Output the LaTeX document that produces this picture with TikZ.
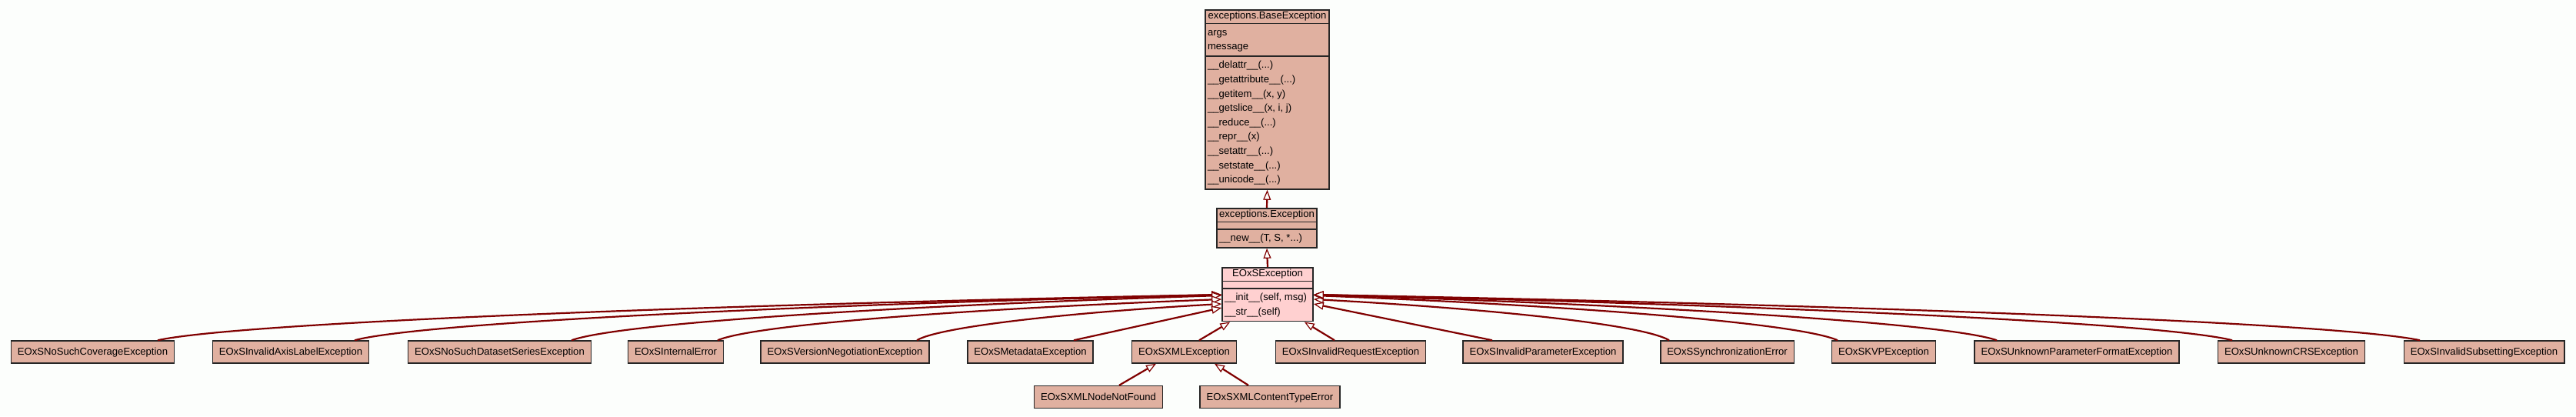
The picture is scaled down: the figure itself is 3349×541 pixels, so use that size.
\documentclass[tikz,border=0pt]{standalone}
\usepackage{fontspec}
\setmainfont{Liberation Sans}
\usetikzlibrary{shapes.multipart,arrows.meta}
\definecolor{clsfill}{HTML}{E0B0A0}
\definecolor{selfill}{HTML}{FFD0D0}
\definecolor{inhline}{HTML}{800000}
\definecolor{pagebg}{HTML}{FCFEFC}

\begin{document}
\begin{tikzpicture}[x=1pt, y=-1pt,
    every node/.style={font=\fontsize{13.1}{18.6}\selectfont},
    cls/.style={draw=black!85, line width=1.5pt, fill=clsfill, anchor=north,
        rectangle split, rectangle split parts=3,
        rectangle split part align={center,left,left},
        align=left, inner xsep=3pt, inner ysep=2pt},
    leaf/.style={draw=black!85, line width=1.5pt, fill=clsfill, minimum height=29pt,
        inner xsep=8.5pt, text height=9.4pt, text depth=1.4pt},
    inh/.style={draw=inhline, line width=2.2pt,
        -{Triangle[fill=pagebg, line width=1.2pt, length=13pt, width=10pt]}}]
    \useasboundingbox (0,0) rectangle (3349,541);
    \fill[pagebg] (0,0) rectangle (3349,541);

    \node[cls, minimum width=161pt] (base) at (1647.5,12) {exceptions.BaseException
        \nodepart{two}\strut args\\\strut message
        \nodepart{three}\strut\_\_delattr\_\_(...)\\\strut\_\_getattribute\_\_(...)\\
        \strut\_\_getitem\_\_(x, y)\\\strut\_\_getslice\_\_(x, i, j)\\
        \strut\_\_reduce\_\_(...)\\\strut\_\_repr\_\_(x)\\
        \strut\_\_setattr\_\_(...)\\\strut\_\_setstate\_\_(...)\\
        \strut\_\_unicode\_\_(...)};
    \node[cls, minimum width=128pt] (exception) at (1647,270) {exceptions.Exception
        \nodepart{two}\rule{0pt}{4pt}
        \nodepart{three}\strut\_\_new\_\_(T, S, *...)};
    \node[cls, fill=selfill, minimum width=118pt] (exc) at (1648,347) {EOxSException
        \nodepart{two}\rule{0pt}{4pt}
        \nodepart{three}\strut\_\_init\_\_(self, msg)\\\strut\_\_str\_\_(self)};

    \node[leaf] (cov) at (120.5,457.5) {EOxSNoSuchCoverageException};
    \node[leaf] (axis) at (378,457.5) {EOxSInvalidAxisLabelException};
    \node[leaf] (dss) at (649.5,457.5) {EOxSNoSuchDatasetSeriesException};
    \node[leaf] (internal) at (878.5,457.5) {EOxSInternalError};
    \node[leaf] (version) at (1098.5,457.5) {EOxSVersionNegotiationException};
    \node[leaf] (meta) at (1339.5,457.5) {EOxSMetadataException};
    \node[leaf] (xml) at (1539.5,457.5) {EOxSXMLException};
    \node[leaf] (request) at (1756,457.5) {EOxSInvalidRequestException};
    \node[leaf] (param) at (2006,457.5) {EOxSInvalidParameterException};
    \node[leaf] (sync) at (2245.5,457.5) {EOxSSynchronizationError};
    \node[leaf] (kvp) at (2449,457.5) {EOxSKVPException};
    \node[leaf] (format) at (2700,457.5) {EOxSUnknownParameterFormatException};
    \node[leaf] (crs) at (2979,457.5) {EOxSUnknownCRSException};
    \node[leaf] (subset) at (3229.5,457.5) {EOxSInvalidSubsettingException};
    \node[leaf] (notfound) at (1428,516) {EOxSXMLNodeNotFound};
    \node[leaf] (ctype) at (1651,516) {EOxSXMLContentTypeError};

    \draw[inh] (exception.north) -- (base.south);
    \draw[inh] (exc.north) -- (exception.south);

    \draw[inh] ([xshift=84.5]cov.north) .. controls +(111,-24) and +(-623,12) .. ([yshift=-36]exc.north west);
    \draw[inh] ([xshift=83]axis.north) .. controls +(90,-24) and +(-508,12) .. ([yshift=-36]exc.north west);
    \draw[inh] ([xshift=93.5]dss.north) .. controls +(68,-24) and +(-381,12) .. ([yshift=-37]exc.north west);
    \draw[inh] ([xshift=54.5]internal.north) .. controls +(52,-22) and +(-295,11) .. ([yshift=-42]exc.north west);
    \draw[inh] ([xshift=93.5]version.north) .. controls +(32,-19) and +(-179,10) .. ([yshift=-48]exc.north west);
    \draw[inh] ([xshift=56.5]meta.north) -- ([yshift=-53]exc.north west);
    \draw[inh] ([xshift=19.5]xml.north) -- ([xshift=11]exc.south west);
    \draw[inh] ([xshift=-21]request.north) -- ([xshift=-12]exc.south east);
    \draw[inh] ([xshift=-66]param.north) -- ([yshift=-48]exc.north east);
    \draw[inh] ([xshift=-75.5]sync.north) .. controls +(-37,-22) and +(208,11) .. ([yshift=-42]exc.north east);
    \draw[inh] ([xshift=-60]kvp.north) .. controls +(-55,-24) and +(307,12) .. ([yshift=-37]exc.north east);
    \draw[inh] ([xshift=-104]format.north) .. controls +(-71,-24) and +(400,12) .. ([yshift=-36]exc.north east);
    \draw[inh] ([xshift=-77]crs.north) .. controls +(-96,-24) and +(538,12) .. ([yshift=-36]exc.north east);
    \draw[inh] ([xshift=-83.5]subset.north) .. controls +(-115,-24) and +(648,12) .. ([yshift=-36]exc.north east);
    \draw[inh] ([xshift=27]notfound.north) -- ([xshift=-36.5]xml.south);
    \draw[inh] ([xshift=-28]ctype.north) -- ([xshift=39.5]xml.south);
\end{tikzpicture}
\end{document}
